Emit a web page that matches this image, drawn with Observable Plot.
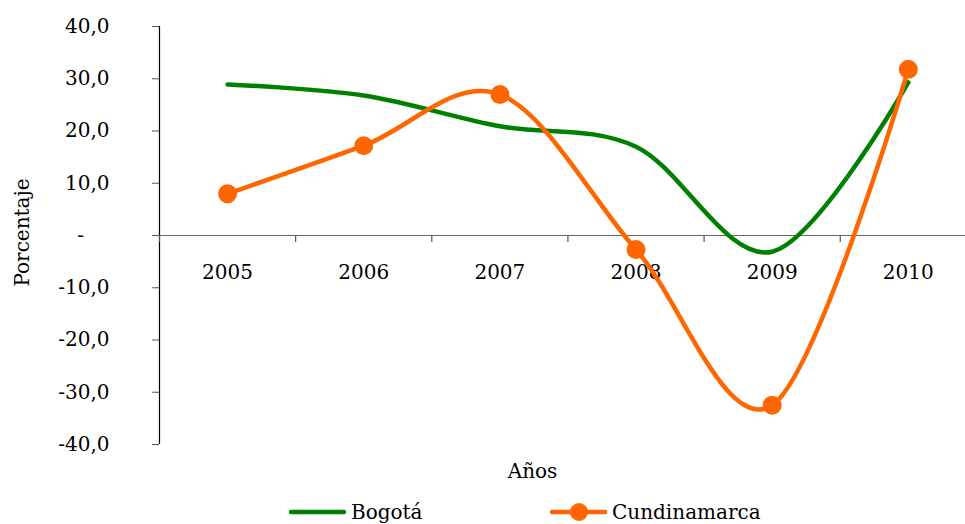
<!DOCTYPE html>
<html><head><meta charset="utf-8">
<script src="https://cdn.jsdelivr.net/npm/d3@7"></script>
<script src="https://cdn.jsdelivr.net/npm/@observablehq/plot@0.6"></script>
<style>
body{margin:0;background:#fff;}
#wrap{position:relative;width:965px;height:524px;overflow:hidden;font-family:"DejaVu Serif",serif;}
#legend{position:absolute;left:0;top:500px;width:965px;height:24px;font-size:20px;color:#000;}
.item{position:absolute;top:0;display:flex;align-items:center;height:24px;}
.item svg{display:block;}
</style></head><body><div id="wrap"><div id="legend"></div></div>
<script>
const years = [2005, 2006, 2007, 2008, 2009, 2010];
const bogota = [28.9, 26.8, 20.9, 17.0, -3.1, 29.3];
const cundinamarca = [8.0, 17.2, 27.0, -2.7, -32.5, 31.8];
const yTicks = [-40, -30, -20, -10, 0, 10, 20, 30, 40];
const seriesNames = ["Bogotá", "Cundinamarca"];
const colors = ["#008000", "#ff6600"];
const xTitle = "Años";
const yTitle = "Porcentaje";

const bData = years.map((y, i) => ({year: y, value: bogota[i]}));
const cData = years.map((y, i) => ({year: y, value: cundinamarca[i]}));
const boundaries = years.map(y => y - 0.5);
const fmt = d => d === 0 ? "-\u2007\u2007" : d.toFixed(1).replace(".", ",");

const chart = Plot.plot({
  width: 965, height: 490,
  marginLeft: 159, marginRight: 0, marginTop: 26, marginBottom: 46,
  style: {fontFamily: "DejaVu Serif", fontSize: "20px", color: "#000", background: "#fff", overflow: "visible"},
  x: {domain: [2004.5, 2010.42], axis: null},
  y: {domain: [-40, 40], axis: null},
  marks: [
    Plot.axisY({ticks: yTicks, tickFormat: fmt, tickSize: 7, tickPadding: 43, stroke: "#555", fontSize: 20, label: null}),
    Plot.ruleX([2004.5], {stroke: "#000", strokeWidth: 1.2}),
    Plot.ruleY([0], {stroke: "#666", strokeWidth: 1.2}),
    Plot.ruleX(boundaries, {x: d => d, y1: 0, y2: 0, insetBottom: -7, stroke: "#555", strokeWidth: 1.2}),
    Plot.text(years, {x: d => d, y: 0, text: d => String(d), dy: 37, fontSize: 20, fill: "#000"}),
    Plot.text([yTitle], {frameAnchor: "left", textAnchor: "middle", dx: -137, dy: -3, rotate: -90, fontSize: 20, fill: "#000"}),
    Plot.text([xTitle], {frameAnchor: "bottom", dx: -30, dy: 33, fontSize: 20, fill: "#000"}),
    Plot.line(bData, {x: "year", y: "value", stroke: colors[0], strokeWidth: 4.5, curve: "cardinal"}),
    Plot.line(cData, {x: "year", y: "value", stroke: colors[1], strokeWidth: 4.5, curve: "cardinal"}),
    Plot.dot(cData, {x: "year", y: "value", r: 9.5, fill: colors[1], stroke: "none"})
  ]
});
document.getElementById("wrap").prepend(chart);

const legend = document.getElementById("legend");
const pos = [{left: 289, marker: false}, {left: 550, marker: true}];
seriesNames.forEach((name, i) => {
  const div = document.createElement("div");
  div.className = "item";
  div.style.left = pos[i].left + "px";
  const w = 58;
  div.innerHTML = `<svg width="${w}" height="24"><line x1="2" y1="12" x2="${w-3}" y2="12" stroke="${colors[i]}" stroke-width="4.5" stroke-linecap="round"/>` +
    (pos[i].marker ? `<circle cx="${w/2}" cy="12" r="9" fill="${colors[i]}"/>` : "") +
    `</svg><span style="margin-left:4px">${name}</span>`;
  legend.appendChild(div);
});
</script>
</body></html>
